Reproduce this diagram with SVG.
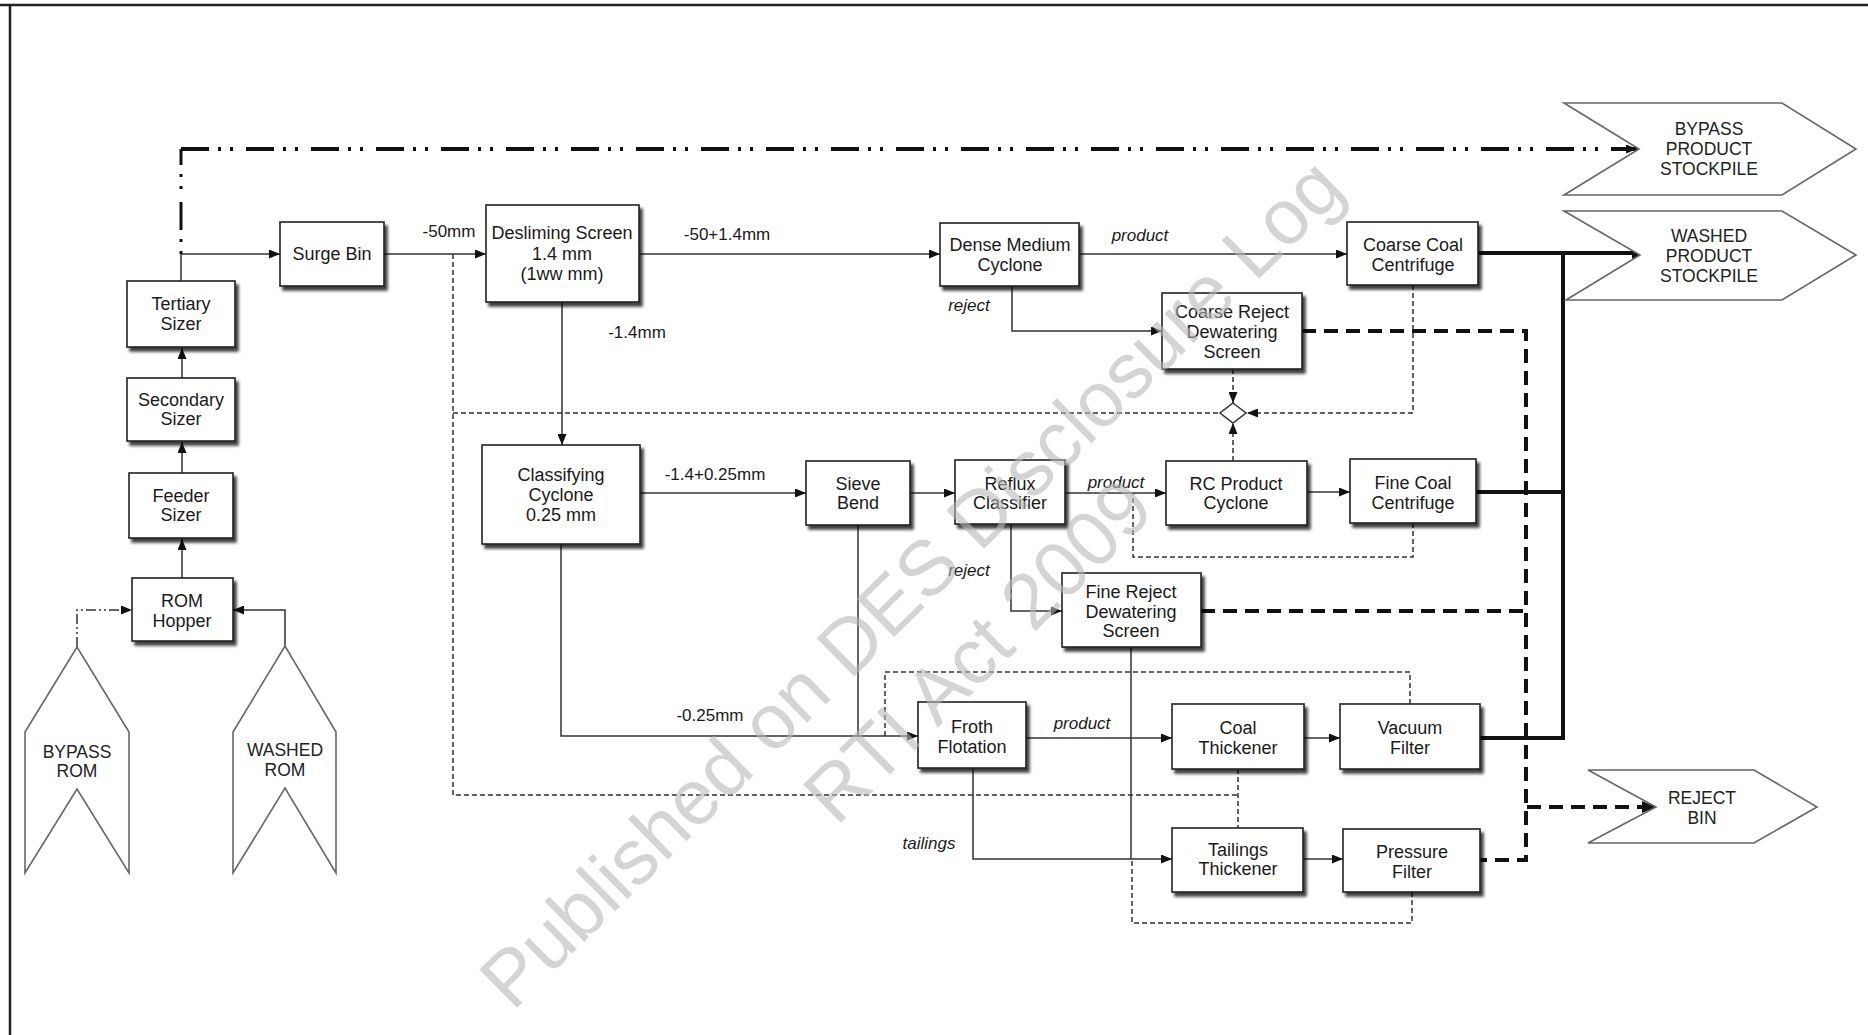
<svg xmlns="http://www.w3.org/2000/svg" width="1868" height="1035" viewBox="0 0 1868 1035">
<style>
text{font-family:"Liberation Sans",Arial,sans-serif;fill:#1a1a1a;}
.t{font-size:18px;text-anchor:middle;}
.f{font-size:17.5px;text-anchor:middle;fill:#222;}
.l{font-size:17px;text-anchor:middle;}
.i{font-size:17px;text-anchor:middle;font-style:italic;}
.box{fill:#fff;stroke:#222;stroke-width:1.6;filter:url(#sh);}
.flag{fill:#fff;stroke:#666;stroke-width:1.6;}
.ln{fill:none;stroke:#333;stroke-width:1.5;}
.thk{fill:none;stroke:#111;stroke-width:4;}
.rej{fill:none;stroke:#111;stroke-width:4;stroke-dasharray:14 8;}
.dsh{fill:none;stroke:#333;stroke-width:1.5;stroke-dasharray:5 3;}
.byp{fill:none;stroke:#111;stroke-width:4;stroke-dasharray:28 9 3 9 3 13;}
.bypv{fill:none;stroke:#111;stroke-width:3;stroke-dasharray:3 9 3 9 28 13;}
.bypt{fill:none;stroke:#333;stroke-width:1.5;stroke-dasharray:10 3 2 3 2 3;}
.wm{font-size:78px;text-anchor:middle;fill:#b8b8b8;fill-opacity:0.6;}
</style>
<defs>
<filter id="sh" x="-10%" y="-10%" width="130%" height="140%">
<feDropShadow dx="3" dy="4" stdDeviation="1.6" flood-color="#000" flood-opacity="0.75"/>
</filter>
<marker id="a" markerUnits="userSpaceOnUse" markerWidth="11" markerHeight="9" refX="11" refY="4.5" orient="auto">
<path d="M0,0 L11,4.5 L0,9 z" fill="#111"/>
</marker>
<marker id="ab" markerUnits="userSpaceOnUse" markerWidth="14" markerHeight="12" refX="14" refY="6" orient="auto">
<path d="M0,0 L14,6 L0,12 z" fill="#111"/>
</marker>
</defs>
<rect x="0" y="0" width="1868" height="1035" fill="#fff"/>
<path d="M0,5 H1868 M10,5 V1035" stroke="#222" stroke-width="2.5" fill="none"/>

<g id="connectors">
<path class="ln" d="M182,578 V539" marker-end="url(#a)"/>
<path class="ln" d="M182,473 V442" marker-end="url(#a)"/>
<path class="ln" d="M182,378 V348" marker-end="url(#a)"/>
<path class="ln" d="M181,281 V254 H280" marker-end="url(#a)"/>
<path class="ln" d="M384,254 H486" marker-end="url(#a)"/>
<path class="ln" d="M639,254 H940" marker-end="url(#a)"/>
<path class="ln" d="M1079,254 H1347" marker-end="url(#a)"/>
<path class="ln" d="M1012,286 V331 H1162" marker-end="url(#a)"/>
<path class="ln" d="M562,302 V445" marker-end="url(#a)"/>
<path class="ln" d="M640,493 H806" marker-end="url(#a)"/>
<path class="ln" d="M910,493 H955" marker-end="url(#a)"/>
<path class="ln" d="M1065,493 H1166" marker-end="url(#a)"/>
<path class="ln" d="M1307,492 H1350" marker-end="url(#a)"/>
<path class="ln" d="M561,544 V736 H918" marker-end="url(#a)"/>
<path class="ln" d="M858,525 V736"/>
<path class="ln" d="M1011,524 V611 H1062" marker-end="url(#a)"/>
<path class="ln" d="M1026,738 H1172" marker-end="url(#a)"/>
<path class="ln" d="M1304,738 H1340" marker-end="url(#a)"/>
<path class="ln" d="M973,768 V859 H1172" marker-end="url(#a)"/>
<path class="ln" d="M1303,859 H1343" marker-end="url(#a)"/>
<path class="ln" d="M1131,647 V859"/>
<path class="ln" d="M285,646 V610 H233" marker-end="url(#a)"/>
<path class="bypt" d="M77,647 V610 H132" marker-end="url(#a)"/>

<path class="bypv" d="M181,254 V149"/>
<path class="byp" d="M181,149 H1637" marker-end="url(#a)"/>

<path class="thk" d="M1478,253 H1646" marker-end="url(#ab)"/>
<path class="thk" d="M1476,492 H1563"/>
<path class="thk" d="M1480,738 H1563 V253"/>

<path class="rej" d="M1302,331 H1526 V860 H1480"/>
<path class="rej" d="M1201,611 H1526"/>
<path class="rej" d="M1527,807 H1656" marker-end="url(#ab)"/>

<path class="dsh" d="M453,254 V795 H1238"/>
<path class="dsh" d="M1238,769 V828"/>
<path class="dsh" d="M453,413 H1220"/>
<path class="dsh" d="M1413,285 V413 H1247" marker-end="url(#a)"/>
<path class="dsh" d="M1233,369 V403" marker-end="url(#a)"/>
<path class="dsh" d="M1233,461 V423" marker-end="url(#a)"/>
<path class="dsh" d="M1413,523 V557 H1133 V493"/>
<path class="dsh" d="M1410,704 V672 H885 V736"/>
<path class="dsh" d="M1412,892 V923 H1132 V859"/>

<text class="l" x="449" y="237">-50mm</text>
<text class="l" x="727" y="240">-50+1.4mm</text>
<text class="i" x="1140" y="241">product</text>
<text class="i" x="969" y="311">reject</text>
<text class="l" x="637" y="338">-1.4mm</text>
<text class="l" x="715" y="480">-1.4+0.25mm</text>
<text class="i" x="1116" y="488">product</text>
<text class="i" x="969" y="576">reject</text>
<text class="l" x="710" y="721">-0.25mm</text>
<text class="i" x="1082" y="729">product</text>
<text class="i" x="929" y="849">tailings</text>
</g>

<g id="junction">
<polygon points="1233,403 1246,413 1233,423 1220,413" fill="#fff" stroke="#333" stroke-width="1.5"/>
</g>

<g id="bypass-rom">
<polygon class="flag" points="25,873 25,732 77,647 129,732 129,873 77,789"/>
<text class="f" x="77" y="758">BYPASS</text>
<text class="f" x="77" y="777">ROM</text>
</g>
<g id="washed-rom">
<polygon class="flag" points="233,873 233,732 285,646 336,732 336,873 285,788"/>
<text class="f" x="285" y="756">WASHED</text>
<text class="f" x="285" y="776">ROM</text>
</g>
<g id="bypass-product-stockpile">
<polygon class="flag" points="1564,103 1782,103 1856,149 1782,195 1564,195 1639,149"/>
<text class="f" x="1709" y="135">BYPASS</text>
<text class="f" x="1709" y="155">PRODUCT</text>
<text class="f" x="1709" y="175">STOCKPILE</text>
</g>
<g id="washed-product-stockpile">
<polygon class="flag" points="1564,211 1782,211 1856,255 1782,300 1566,300 1640,255"/>
<text class="f" x="1709" y="242">WASHED</text>
<text class="f" x="1709" y="262">PRODUCT</text>
<text class="f" x="1709" y="282">STOCKPILE</text>
</g>
<g id="reject-bin">
<polygon class="flag" points="1588,770 1754,770 1817,807 1754,843 1588,843 1656,807"/>
<text class="f" x="1702" y="804">REJECT</text>
<text class="f" x="1702" y="824">BIN</text>
</g>

<g id="rom-hopper"><rect class="box" x="132" y="578" width="101" height="63"/>
<text class="t" x="182" y="607">ROM</text><text class="t" x="182" y="627">Hopper</text></g>
<g id="feeder-sizer"><rect class="box" x="129" y="473" width="104" height="65"/>
<text class="t" x="181" y="502">Feeder</text><text class="t" x="181" y="521">Sizer</text></g>
<g id="secondary-sizer"><rect class="box" x="127" y="378" width="108" height="63"/>
<text class="t" x="181" y="406">Secondary</text><text class="t" x="181" y="425">Sizer</text></g>
<g id="tertiary-sizer"><rect class="box" x="127" y="281" width="108" height="66"/>
<text class="t" x="181" y="310">Tertiary</text><text class="t" x="181" y="330">Sizer</text></g>
<g id="surge-bin"><rect class="box" x="280" y="222" width="104" height="64"/>
<text class="t" x="332" y="260">Surge Bin</text></g>
<g id="desliming-screen"><rect class="box" x="486" y="205" width="153" height="97"/>
<text class="t" x="562" y="239">Desliming Screen</text><text class="t" x="562" y="260">1.4 mm</text><text class="t" x="562" y="280">(1ww mm)</text></g>
<g id="classifying-cyclone"><rect class="box" x="482" y="445" width="158" height="99"/>
<text class="t" x="561" y="481">Classifying</text><text class="t" x="561" y="501">Cyclone</text><text class="t" x="561" y="521">0.25 mm</text></g>
<g id="dense-medium-cyclone"><rect class="box" x="940" y="223" width="139" height="63"/>
<text class="t" x="1010" y="251">Dense Medium</text><text class="t" x="1010" y="271">Cyclone</text></g>
<g id="coarse-coal-centrifuge"><rect class="box" x="1347" y="222" width="131" height="63"/>
<text class="t" x="1413" y="251">Coarse Coal</text><text class="t" x="1413" y="271">Centrifuge</text></g>
<g id="coarse-reject-dewatering-screen"><rect class="box" x="1162" y="293" width="140" height="76"/>
<text class="t" x="1232" y="318">Coarse Reject</text><text class="t" x="1232" y="338">Dewatering</text><text class="t" x="1232" y="358">Screen</text></g>
<g id="sieve-bend"><rect class="box" x="806" y="461" width="104" height="64"/>
<text class="t" x="858" y="490">Sieve</text><text class="t" x="858" y="509">Bend</text></g>
<g id="reflux-classifier"><rect class="box" x="955" y="460" width="110" height="64"/>
<text class="t" x="1010" y="490">Reflux</text><text class="t" x="1010" y="509">Classifier</text></g>
<g id="rc-product-cyclone"><rect class="box" x="1166" y="461" width="141" height="64"/>
<text class="t" x="1236" y="490">RC Product</text><text class="t" x="1236" y="509">Cyclone</text></g>
<g id="fine-coal-centrifuge"><rect class="box" x="1350" y="459" width="126" height="64"/>
<text class="t" x="1413" y="489">Fine Coal</text><text class="t" x="1413" y="509">Centrifuge</text></g>
<g id="fine-reject-dewatering-screen"><rect class="box" x="1062" y="573" width="139" height="74"/>
<text class="t" x="1131" y="598">Fine Reject</text><text class="t" x="1131" y="618">Dewatering</text><text class="t" x="1131" y="637">Screen</text></g>
<g id="froth-flotation"><rect class="box" x="918" y="702" width="108" height="66"/>
<text class="t" x="972" y="733">Froth</text><text class="t" x="972" y="753">Flotation</text></g>
<g id="coal-thickener"><rect class="box" x="1172" y="704" width="132" height="65"/>
<text class="t" x="1238" y="734">Coal</text><text class="t" x="1238" y="754">Thickener</text></g>
<g id="vacuum-filter"><rect class="box" x="1340" y="704" width="140" height="65"/>
<text class="t" x="1410" y="734">Vacuum</text><text class="t" x="1410" y="754">Filter</text></g>
<g id="tailings-thickener"><rect class="box" x="1172" y="828" width="131" height="64"/>
<text class="t" x="1238" y="856">Tailings</text><text class="t" x="1238" y="875">Thickener</text></g>
<g id="pressure-filter"><rect class="box" x="1343" y="829" width="137" height="63"/>
<text class="t" x="1412" y="858">Pressure</text><text class="t" x="1412" y="878">Filter</text></g>

<g id="watermark" transform="translate(930,602) rotate(-44.5)">
<text class="wm" x="0" y="0">Published on DES Disclosure Log</text>
<text class="wm" x="0" y="95">RTI Act 2009</text>
</g>
</svg>
